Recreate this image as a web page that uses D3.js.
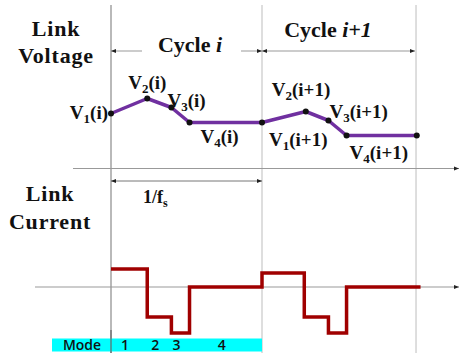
<!DOCTYPE html>
<html>
<head>
<meta charset="utf-8">
<script src="https://cdn.jsdelivr.net/npm/d3@7"></script>
<style>
  html, body { margin: 0; padding: 0; background: #fff; }
  svg { display: block; }
</style>
</head>
<body>
<svg id="chart" width="460" height="360"></svg>
<script>
// Time axis (arbitrary units): switching cycle boundaries
const cycleEdges = [0, 10, 20.2];

// Link voltage knots over two cycles
const voltageTimes  = [0, 2.4, 4.0, 5.2, 10, 12.9, 14.4, 15.6, 20.25];
const voltageValues = [55, 70, 61, 46, 46, 57, 48, 33, 33];
const voltageLabels = [
  { name: "V", sub: "1", arg: "(i)" },
  { name: "V", sub: "2", arg: "(i)" },
  { name: "V", sub: "3", arg: "(i)" },
  { name: "V", sub: "4", arg: "(i)" },
  { name: "V", sub: "1", arg: "(i+1)" },
  { name: "V", sub: "2", arg: "(i+1)" },
  { name: "V", sub: "3", arg: "(i+1)" },
  { name: "V", sub: "4", arg: "(i+1)" }
];

// Link current (piecewise constant, value held until next time)
const currentTimes  = [0, 2.4, 4.0, 5.2, 10, 12.8, 14.4, 15.6, 20.5];
const currentValues = [18, -30, -46, 0, 14, -30, -46, 0, 0];

// Operating modes within cycle i
const modeEdges  = [0, 2.4, 4.0, 5.2, 10];
const modeLabels = ["1", "2", "3", "4"];

const SERIF = "Liberation Serif";
const SANS  = "Open Sans";

const svg = d3.select("#chart");

const x  = d3.scaleLinear().domain([0, 10]).range([111, 262]);
const yV = d3.scaleLinear().domain([0, 100]).range([168.5, 68.5]);
const yI = d3.scaleLinear().domain([-50, 50]).range([337, 237]);

function serifText(px) {
  return svg.append("text")
    .attr("font-family", SERIF).attr("font-weight", "bold")
    .attr("font-size", px).attr("fill", "#111");
}

// arrowhead markers
const defs = svg.append("defs");
function marker(id, dir) {
  const m = defs.append("marker")
    .attr("id", id).attr("viewBox", "0 0 10 10")
    .attr("refX", dir === "end" ? 10 : 0).attr("refY", 5)
    .attr("markerWidth", 7).attr("markerHeight", 5)
    .attr("markerUnits", "userSpaceOnUse")
    .attr("orient", "auto");
  m.append("path")
    .attr("d", dir === "end" ? "M0,1 L10,5 L0,9 Z" : "M10,1 L0,5 L10,9 Z")
    .attr("fill", "#222");
}
marker("arrEnd", "end");
marker("arrStart", "start");

// cycle boundary guides
svg.append("g").selectAll("line").data(cycleEdges).join("line")
  .attr("x1", d => x(d)).attr("x2", d => x(d))
  .attr("y1", 5).attr("y2", 353)
  .attr("stroke", (d, i) => i === 0 ? "#8a8a8a" : "#c8c8c8")
  .attr("stroke-width", 1.2);

// zero axes for voltage and current
svg.append("line")
  .attr("x1", 73).attr("x2", 459).attr("y1", yV(0)).attr("y2", yV(0))
  .attr("stroke", "#999").attr("stroke-width", 1)
  .attr("marker-end", "url(#arrEnd)");
svg.append("line")
  .attr("x1", 35).attr("x2", 459).attr("y1", yI(0)).attr("y2", yI(0))
  .attr("stroke", "#999").attr("stroke-width", 1)
  .attr("marker-end", "url(#arrEnd)");

// dimension arrows
const dimY = 51;
svg.append("line")
  .attr("x1", x(cycleEdges[0])).attr("x2", 142).attr("y1", dimY).attr("y2", dimY)
  .attr("stroke", "#999").attr("marker-start", "url(#arrStart)");
svg.append("line")
  .attr("x1", 241).attr("x2", x(cycleEdges[1])).attr("y1", dimY).attr("y2", dimY)
  .attr("stroke", "#999").attr("marker-end", "url(#arrEnd)");
svg.append("line")
  .attr("x1", x(cycleEdges[1])).attr("x2", x(cycleEdges[2]) - 1).attr("y1", dimY).attr("y2", dimY)
  .attr("stroke", "#999").attr("marker-start", "url(#arrStart)").attr("marker-end", "url(#arrEnd)");
svg.append("line")
  .attr("x1", x(cycleEdges[0])).attr("x2", x(cycleEdges[1])).attr("y1", 181).attr("y2", 181)
  .attr("stroke", "#777").attr("marker-start", "url(#arrStart)").attr("marker-end", "url(#arrEnd)");

// titles
function twoLine(cx, y1, y2, a, b) {
  serifText(22).attr("x", cx).attr("y", y1)
    .attr("text-anchor", "middle").attr("letter-spacing", 0.8).text(a);
  serifText(22).attr("x", cx).attr("y", y2)
    .attr("text-anchor", "middle").attr("letter-spacing", 0.8).text(b);
}
twoLine(56, 36, 63, "Link", "Voltage");
twoLine(50, 201, 229, "Link", "Current");

const c1 = serifText(22).attr("x", 190).attr("y", 52).attr("text-anchor", "middle");
c1.append("tspan").text("Cycle ");
c1.append("tspan").attr("font-style", "italic").text("i");
const c2 = serifText(22).attr("x", 328).attr("y", 37).attr("text-anchor", "middle");
c2.append("tspan").text("Cycle ");
c2.append("tspan").attr("font-style", "italic").text("i+1");

const fs = serifText(18).attr("x", 143).attr("y", 203);
fs.append("tspan").text("1/f");
fs.append("tspan").attr("font-size", 12).attr("dy", 4).text("s");

// voltage trace
const vPts = voltageTimes.map((t, i) => [t, voltageValues[i]]);
svg.append("path").datum(vPts)
  .attr("d", d3.line().x(d => x(d[0])).y(d => yV(d[1])))
  .attr("fill", "none").attr("stroke", "#7030A0").attr("stroke-width", 3.5)
  .attr("stroke-linejoin", "round");
svg.append("g").selectAll("circle").data(vPts).join("circle")
  .attr("cx", d => x(d[0])).attr("cy", d => yV(d[1])).attr("r", 3)
  .attr("fill", "#111");

// voltage labels: offsets from each knot, anchor
const labelLayout = [
  { dx: -3, dy: 5, anchor: "end" },
  { dx: -19, dy: -10, anchor: "start" },
  { dx: -4, dy: -1, anchor: "start" },
  { dx: 11, dy: 20, anchor: "start" },
  { dx: 7, dy: 23, anchor: "start" },
  { dx: -34, dy: -16, anchor: "start" },
  { dx: 1, dy: -3, anchor: "start" },
  { dx: 3, dy: 23, anchor: "start" }
];
voltageLabels.forEach((lab, i) => {
  const L = labelLayout[i];
  const t = serifText(19)
    .attr("x", x(voltageTimes[i]) + L.dx).attr("y", yV(voltageValues[i]) + L.dy)
    .attr("text-anchor", L.anchor);
  t.append("tspan").text(lab.name);
  t.append("tspan").attr("font-size", 13).attr("dy", 4).text(lab.sub);
  t.append("tspan").attr("dy", -4).text(lab.arg);
});

// current trace
const iPts = currentTimes.map((t, i) => [t, currentValues[i]]);
svg.append("path").datum(iPts)
  .attr("d", d3.line().curve(d3.curveStepAfter).x(d => x(d[0])).y(d => yI(d[1])))
  .attr("fill", "none").attr("stroke", "#A00000").attr("stroke-width", 3.5)
  .attr("stroke-linejoin", "miter");

// mode strip
svg.append("rect")
  .attr("x", 52).attr("y", 338.5)
  .attr("width", x(modeEdges[modeEdges.length - 1]) - 52).attr("height", 13)
  .attr("fill", "#00FFFF");
svg.append("line")
  .attr("x1", x(0)).attr("x2", x(0)).attr("y1", 330).attr("y2", 353)
  .attr("stroke", "#666").attr("stroke-width", 1.2);
svg.append("text").attr("font-family", SANS).attr("fill", "#111")
  .attr("x", 82).attr("y", 350)
  .attr("text-anchor", "middle").attr("font-size", 14).attr("font-weight", 600).text("Mode");
svg.append("g").selectAll("text").data(modeLabels).join("text")
  .attr("font-family", SANS).attr("fill", "#111")
  .attr("x", (d, i) => (x(modeEdges[i]) + x(modeEdges[i + 1])) / 2 - 4)
  .attr("y", 350).attr("text-anchor", "middle")
  .attr("font-size", 14).attr("font-weight", 600).text(d => d);
</script>
</body>
</html>
